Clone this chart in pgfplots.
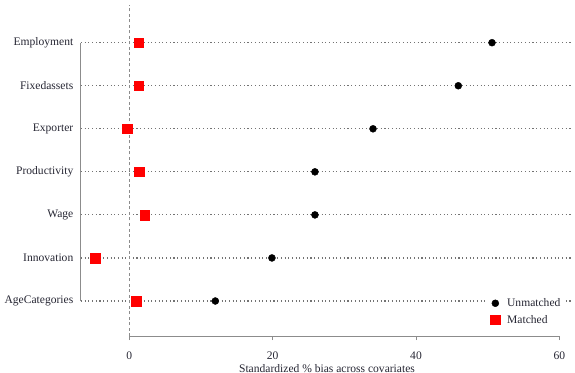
\documentclass[border=0pt]{standalone}
\usepackage{fontspec}
\setmainfont{Liberation Serif}
\usepackage{pgfplots}
\pgfplotsset{compat=1.18}
\usepackage{pgfplotstable}

\definecolor{axisgray}{gray}{0.55}
\definecolor{gridgray}{gray}{0.45}
\definecolor{txt}{rgb}{0.15,0.15,0.2}

% standardized bias per covariate, before and after matching
% pos: 7 = top row, 1 = bottom row
\pgfplotstableread{
pos unmatched matched
7   50.6   1.3
6   45.9   1.3
5   34.0  -0.3
4   25.9   1.4
3   25.9   2.15
2   19.9  -4.8
1   12.0   0.95
}\biasdata

\begin{document}
\begin{tikzpicture}
\begin{axis}[
  scale only axis,
  width=492bp, height=331bp,
  xmin=-6.74, xmax=61.9,
  ymin=0.187, ymax=7.876,
  axis line style={draw=none},
  xtick={0,20,40,60},
  xtick pos=lower,
  tick align=outside,
  major tick length=4bp,
  xtick style={axisgray, line width=0.8bp},
  ytick={1,2,3,4,5,6,7},
  yticklabels={AgeCategories,Innovation,Wage,Productivity,Exporter,Fixedassets,Employment},
  ytick pos=left,
  ytick style={draw=none},
  ymajorgrids,
  major grid style={gridgray, line width=1.1bp, dash pattern=on 1.1bp off 2.6bp},
  /pgf/number format/assume math mode=true,
  tick label style={font=\fontsize{11.6}{13}\selectfont, text=txt},
  yticklabel style={anchor=east, inner sep=0pt, xshift=-3.5bp},
  xticklabel style={anchor=base, inner sep=0pt, yshift=-19bp},
  xlabel={Standardized \% bias across covariates},
  xlabel style={font=\fontsize{11.6}{13}\selectfont, text=txt,
    at={(axis description cs:0.5,0)}, anchor=base, inner sep=0pt, yshift=-36bp},
  legend style={font=\fontsize{11.6}{13}\selectfont, text=txt, draw=none, fill=white,
    at={(0.987,0.022)}, anchor=south east, row sep=3bp,
    inner xsep=4bp, inner ysep=2bp,
    /tikz/every odd column/.append style={column sep=5bp}},
  legend cell align=left,
  clip=false,
]
% reference line at zero bias
\draw[black!45, line width=0.8bp, dash pattern=on 3bp off 2.5bp]
  (axis cs:0,0.187) -- (axis cs:0,7.876);
% axis lines spanning only the category and tick ranges
\draw[axisgray, line width=1bp] (axis cs:-6.74,1) -- (axis cs:-6.74,7);
\draw[axisgray, line width=1bp] (axis cs:0,0.187) -- (axis cs:60,0.187);

\addplot[only marks, mark=*, mark size=3.5bp, draw=black, fill=black]
  table[x=unmatched, y=pos] {\biasdata};
\addlegendentry{Unmatched}
\addplot[only marks, mark=square*, mark size=4.8bp, draw=red, fill=red]
  table[x=matched, y=pos] {\biasdata};
\addlegendentry{Matched}
\end{axis}
\pgfresetboundingbox
\path[use as bounding box] (-81bp,-37bp) rectangle (494bp,336bp);
\end{tikzpicture}
\end{document}
